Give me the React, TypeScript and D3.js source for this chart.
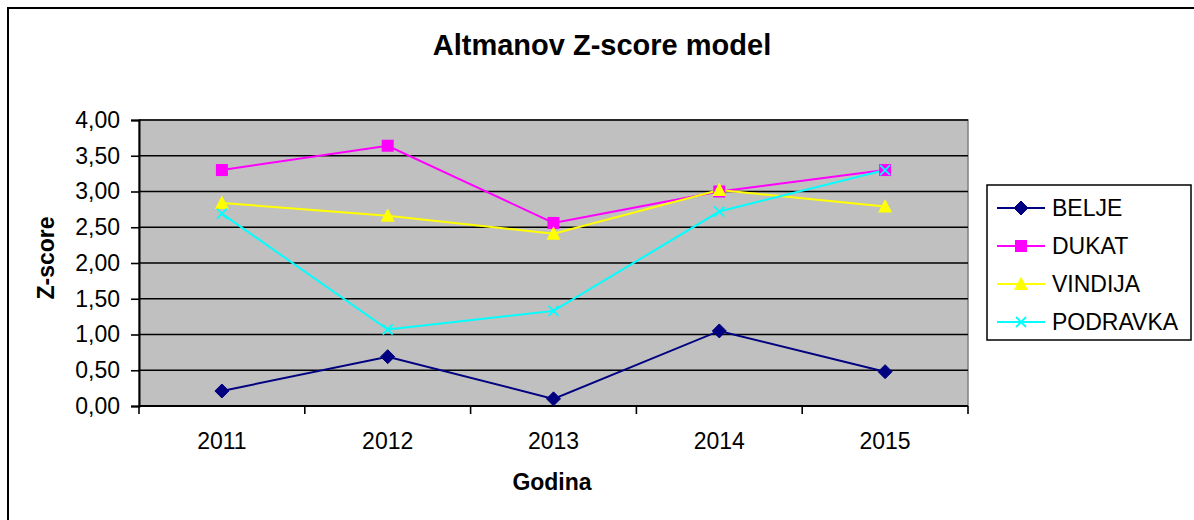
import React, { useEffect, useRef } from 'react';
import * as d3 from 'd3';

const years = ['2011', '2012', '2013', '2014', '2015'];
const belje = [0.21, 0.69, 0.10, 1.05, 0.48];
const dukat = [3.30, 3.64, 2.56, 3.00, 3.30];
const vindija = [2.84, 2.66, 2.41, 3.02, 2.79];
const podravka = [2.69, 1.07, 1.33, 2.72, 3.30];
const yTicks = [0, 0.5, 1, 1.5, 2, 2.5, 3, 3.5, 4];

const seriesNames = ['BELJE', 'DUKAT', 'VINDIJA', 'PODRAVKA'];
const seriesColors = ['#000080', '#FF00FF', '#FFFF00', '#00FFFF'];
const seriesSymbols = ['diamond', 'square', 'triangle', 'x'];

const plot = { left: 139, right: 968, top: 120, bottom: 406 };
const font = '"Liberation Sans", Arial, sans-serif';

function drawMarker(g: any, kind: string, cx: number, cy: number, color: string) {
    if (kind === 'diamond') {
        g.append('path')
            .attr('d', `M${cx},${cy - 7}L${cx + 7},${cy}L${cx},${cy + 7}L${cx - 7},${cy}Z`)
            .attr('fill', color).attr('stroke', color).attr('stroke-width', 1);
    } else if (kind === 'square') {
        g.append('rect')
            .attr('x', cx - 6).attr('y', cy - 6)
            .attr('width', 12).attr('height', 12)
            .attr('fill', color);
    } else if (kind === 'triangle') {
        g.append('path')
            .attr('d', `M${cx},${cy - 7.5}L${cx + 7},${cy + 6}L${cx - 7},${cy + 6}Z`)
            .attr('fill', color);
    } else {
        g.append('path')
            .attr('d', `M${cx - 5},${cy - 5}L${cx + 5},${cy + 5}M${cx - 5},${cy + 5}L${cx + 5},${cy - 5}`)
            .attr('stroke', color).attr('stroke-width', 1.8).attr('fill', 'none');
    }
}

export default function App() {
    const ref = useRef<SVGSVGElement>(null);

    useEffect(() => {
        const svg = d3.select(ref.current);
        svg.selectAll('*').remove();

        const data = [belje, dukat, vindija, podravka];

        const x = d3.scaleBand().domain(years).range([plot.left, plot.right]);
        const y = d3.scaleLinear().domain([0, 4]).range([plot.bottom, plot.top]);

        // outer frame, runs off the right and bottom edge
        svg.append('rect')
            .attr('x', 8).attr('y', 8)
            .attr('width', 1200).attr('height', 530)
            .attr('fill', '#fff').attr('stroke', '#000').attr('stroke-width', 2);

        // plot background
        svg.append('rect')
            .attr('x', plot.left).attr('y', plot.top)
            .attr('width', plot.right - plot.left).attr('height', plot.bottom - plot.top)
            .attr('fill', '#C0C0C0').attr('stroke', '#808080').attr('stroke-width', 1.5);

        // gridlines
        svg.append('g')
            .selectAll('line')
            .data(yTicks.slice(1))
            .enter()
            .append('line')
            .attr('x1', plot.left).attr('x2', plot.right)
            .attr('y1', (d) => y(d)).attr('y2', (d) => y(d))
            .attr('stroke', '#000').attr('stroke-width', 1.6);

        // y axis
        const yAxis = d3.axisLeft(y)
            .tickValues(yTicks)
            .tickSize(8)
            .tickPadding(11)
            .tickFormat((d: any) => d3.format('.2f')(d).replace('.', ','));
        const gy = svg.append('g')
            .attr('transform', `translate(${plot.left},0)`)
            .call(yAxis as any);
        gy.select('.domain').attr('stroke', '#000').attr('stroke-width', 2);
        gy.selectAll('.tick line').attr('stroke', '#000').attr('stroke-width', 1.6);
        gy.selectAll('.tick text')
            .attr('fill', '#000')
            .style('font-family', font)
            .style('font-size', '23px');

        // x axis, ticks sit between categories
        svg.append('line')
            .attr('x1', plot.left).attr('x2', plot.right)
            .attr('y1', plot.bottom).attr('y2', plot.bottom)
            .attr('stroke', '#000').attr('stroke-width', 2);
        const edges = years.map((d) => x(d) as number).concat([plot.right]);
        svg.append('g')
            .selectAll('line')
            .data(edges)
            .enter()
            .append('line')
            .attr('x1', (d) => d).attr('x2', (d) => d)
            .attr('y1', plot.bottom).attr('y2', plot.bottom + 8)
            .attr('stroke', '#000').attr('stroke-width', 1.6);
        svg.append('g')
            .selectAll('text')
            .data(years)
            .enter()
            .append('text')
            .attr('x', (d) => (x(d) as number) + x.bandwidth() / 2)
            .attr('y', 449)
            .attr('text-anchor', 'middle')
            .style('font-family', font)
            .style('font-size', '23px')
            .text((d) => d);

        // lines and markers
        data.forEach((vals, i) => {
            const line = d3.line<number>()
                .x((d, j) => (x(years[j]) as number) + x.bandwidth() / 2)
                .y((d) => y(d));
            svg.append('path')
                .datum(vals)
                .attr('d', line)
                .attr('fill', 'none')
                .attr('stroke', seriesColors[i])
                .attr('stroke-width', 2);
        });
        data.forEach((vals, i) => {
            const g = svg.append('g');
            vals.forEach((v, j) => {
                drawMarker(g, seriesSymbols[i], (x(years[j]) as number) + x.bandwidth() / 2, y(v), seriesColors[i]);
            });
        });

        // titles
        svg.append('text')
            .attr('x', 602).attr('y', 55)
            .attr('text-anchor', 'middle')
            .style('font-family', font).style('font-size', '29px').style('font-weight', 'bold')
            .text('Altmanov Z-score model');
        svg.append('text')
            .attr('x', 552).attr('y', 490)
            .attr('text-anchor', 'middle')
            .style('font-family', font).style('font-size', '23px').style('font-weight', 'bold')
            .text('Godina');
        svg.append('text')
            .attr('transform', 'translate(54,258) rotate(-90)')
            .attr('text-anchor', 'middle')
            .style('font-family', font).style('font-size', '23px').style('font-weight', 'bold')
            .text('Z-score');

        // legend
        const legend = svg.append('g');
        legend.append('rect')
            .attr('x', 987).attr('y', 185)
            .attr('width', 204).attr('height', 155)
            .attr('fill', '#fff').attr('stroke', '#000').attr('stroke-width', 1.5);
        seriesNames.forEach((name, i) => {
            const ly = 208 + i * 38;
            legend.append('line')
                .attr('x1', 997).attr('x2', 1045)
                .attr('y1', ly).attr('y2', ly)
                .attr('stroke', seriesColors[i]).attr('stroke-width', 2);
            drawMarker(legend, seriesSymbols[i], 1021, ly, seriesColors[i]);
            legend.append('text')
                .attr('x', 1052).attr('y', ly + 8)
                .style('font-family', font).style('font-size', '23px')
                .text(name);
        });
    }, []);

    return (
        <svg ref={ref} width={1194} height={520}
            style={{ position: 'absolute', left: 0, top: 0, background: '#fff' }} />
    );
}
